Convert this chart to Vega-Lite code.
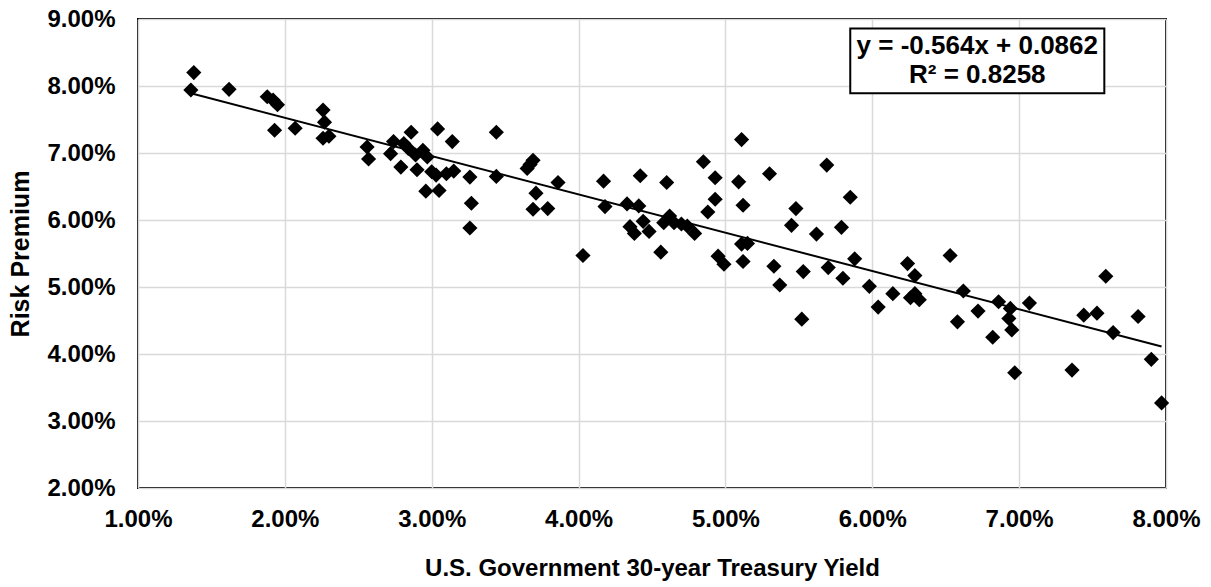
{
  "$schema": "https://vega.github.io/schema/vega-lite/v6.json",
  "autosize": "none",
  "width": 1028,
  "height": 469,
  "padding": {"left": 138, "top": 19, "right": 45, "bottom": 99},
  "background": "white",
  "config": {
    "view": {"stroke": "black", "strokeWidth": 2},
    "font": "Liberation Sans"
  },
  "datasets": {
    "pts": [
      {"yield": 0.0138, "premium": 0.0820}, {"yield": 0.0136, "premium": 0.0794}, {"yield": 0.0162, "premium": 0.0795},
      {"yield": 0.0188, "premium": 0.0784}, {"yield": 0.0192, "premium": 0.0779}, {"yield": 0.0195, "premium": 0.0772},
      {"yield": 0.0193, "premium": 0.0734}, {"yield": 0.0207, "premium": 0.0737}, {"yield": 0.0226, "premium": 0.0764},
      {"yield": 0.0227, "premium": 0.0746}, {"yield": 0.0226, "premium": 0.0722}, {"yield": 0.0230, "premium": 0.0725},
      {"yield": 0.0256, "premium": 0.0709}, {"yield": 0.0257, "premium": 0.0691}, {"yield": 0.0274, "premium": 0.0717},
      {"yield": 0.0272, "premium": 0.0699}, {"yield": 0.0279, "premium": 0.0679}, {"yield": 0.0286, "premium": 0.0731},
      {"yield": 0.0281, "premium": 0.0714}, {"yield": 0.0284, "premium": 0.0707}, {"yield": 0.0289, "premium": 0.0697},
      {"yield": 0.0290, "premium": 0.0675}, {"yield": 0.0294, "premium": 0.0704}, {"yield": 0.0297, "premium": 0.0694},
      {"yield": 0.0300, "premium": 0.0672}, {"yield": 0.0303, "premium": 0.0667}, {"yield": 0.0310, "premium": 0.0669},
      {"yield": 0.0315, "premium": 0.0673}, {"yield": 0.0296, "premium": 0.0643}, {"yield": 0.0305, "premium": 0.0644},
      {"yield": 0.0304, "premium": 0.0736}, {"yield": 0.0314, "premium": 0.0717}, {"yield": 0.0326, "premium": 0.0664},
      {"yield": 0.0327, "premium": 0.0625}, {"yield": 0.0326, "premium": 0.0588}, {"yield": 0.0344, "premium": 0.0731},
      {"yield": 0.0344, "premium": 0.0665}, {"yield": 0.0369, "premium": 0.0689}, {"yield": 0.0365, "premium": 0.0677},
      {"yield": 0.0367, "premium": 0.0683}, {"yield": 0.0371, "premium": 0.0640}, {"yield": 0.0369, "premium": 0.0616},
      {"yield": 0.0379, "premium": 0.0617}, {"yield": 0.0386, "premium": 0.0656}, {"yield": 0.0403, "premium": 0.0547},
      {"yield": 0.0417, "premium": 0.0658}, {"yield": 0.0418, "premium": 0.0620}, {"yield": 0.0433, "premium": 0.0624},
      {"yield": 0.0441, "premium": 0.0621}, {"yield": 0.0435, "premium": 0.0590}, {"yield": 0.0438, "premium": 0.0580},
      {"yield": 0.0442, "premium": 0.0666}, {"yield": 0.0444, "premium": 0.0598}, {"yield": 0.0448, "premium": 0.0583},
      {"yield": 0.0456, "premium": 0.0552}, {"yield": 0.0460, "premium": 0.0656}, {"yield": 0.0458, "premium": 0.0596},
      {"yield": 0.0462, "premium": 0.0606}, {"yield": 0.0465, "premium": 0.0596}, {"yield": 0.0470, "premium": 0.0594},
      {"yield": 0.0474, "premium": 0.0591}, {"yield": 0.0479, "premium": 0.0580}, {"yield": 0.0485, "premium": 0.0687},
      {"yield": 0.0493, "premium": 0.0663}, {"yield": 0.0493, "premium": 0.0631}, {"yield": 0.0488, "premium": 0.0612},
      {"yield": 0.0495, "premium": 0.0546}, {"yield": 0.0499, "premium": 0.0534}, {"yield": 0.0511, "premium": 0.0720},
      {"yield": 0.0509, "premium": 0.0657}, {"yield": 0.0512, "premium": 0.0622}, {"yield": 0.0511, "premium": 0.0564},
      {"yield": 0.0515, "premium": 0.0565}, {"yield": 0.0512, "premium": 0.0538}, {"yield": 0.0530, "premium": 0.0669},
      {"yield": 0.0533, "premium": 0.0531}, {"yield": 0.0537, "premium": 0.0503}, {"yield": 0.0548, "premium": 0.0617},
      {"yield": 0.0545, "premium": 0.0592}, {"yield": 0.0553, "premium": 0.0523}, {"yield": 0.0552, "premium": 0.0452},
      {"yield": 0.0569, "premium": 0.0682}, {"yield": 0.0562, "premium": 0.0579}, {"yield": 0.0570, "premium": 0.0529},
      {"yield": 0.0579, "premium": 0.0589}, {"yield": 0.0585, "premium": 0.0634}, {"yield": 0.0580, "premium": 0.0513},
      {"yield": 0.0588, "premium": 0.0542}, {"yield": 0.0598, "premium": 0.0501}, {"yield": 0.0604, "premium": 0.0470},
      {"yield": 0.0614, "premium": 0.0490}, {"yield": 0.0624, "premium": 0.0535}, {"yield": 0.0629, "premium": 0.0517},
      {"yield": 0.0626, "premium": 0.0484}, {"yield": 0.0629, "premium": 0.0490}, {"yield": 0.0632, "premium": 0.0481},
      {"yield": 0.0653, "premium": 0.0547}, {"yield": 0.0662, "premium": 0.0494}, {"yield": 0.0658, "premium": 0.0448},
      {"yield": 0.0672, "premium": 0.0464}, {"yield": 0.0686, "premium": 0.0478}, {"yield": 0.0682, "premium": 0.0425},
      {"yield": 0.0694, "premium": 0.0468}, {"yield": 0.0693, "premium": 0.0453}, {"yield": 0.0695, "premium": 0.0436},
      {"yield": 0.0697, "premium": 0.0372}, {"yield": 0.0707, "premium": 0.0476}, {"yield": 0.0736, "premium": 0.0376},
      {"yield": 0.0744, "premium": 0.0458}, {"yield": 0.0753, "premium": 0.0461}, {"yield": 0.0759, "premium": 0.0516},
      {"yield": 0.0764, "premium": 0.0432}, {"yield": 0.0781, "premium": 0.0456}, {"yield": 0.0790, "premium": 0.0392},
      {"yield": 0.0797, "premium": 0.0327}
    ],
    "box": [
      {"x1": 0.0585, "x2": 0.0758, "y1": 0.0886, "y2": 0.0789}
    ],
    "labels": [
      {"x": 0.06715, "y": 0.0860, "text": "y = -0.564x + 0.0862"},
      {"x": 0.06715, "y": 0.0817, "text": "R² = 0.8258"}
    ]
  },
  "layer": [
    {
      "data": {"name": "pts"},
      "mark": {"type": "point", "shape": "diamond", "filled": true, "color": "black", "size": 230, "opacity": 1},
      "encoding": {
        "x": {
          "field": "yield", "type": "quantitative",
          "scale": {"domain": [0.01, 0.08], "nice": false, "zero": false},
          "axis": {
            "title": "U.S. Government 30-year Treasury Yield",
            "format": ".2%", "values": [0.01, 0.02, 0.03, 0.04, 0.05, 0.06, 0.07, 0.08],
            "grid": true, "gridColor": "#d9d9d9", "gridWidth": 1.5,
            "ticks": false, "domain": false,
            "labelFont": "Liberation Sans", "labelFontSize": 24, "labelFontWeight": "bold", "labelColor": "black",
            "labelPadding": 19, "labelFlush": false,
            "titleFont": "Liberation Sans", "titleFontSize": 24, "titleFontWeight": "bold", "titleColor": "black",
            "titlePadding": 25
          }
        },
        "y": {
          "field": "premium", "type": "quantitative",
          "scale": {"domain": [0.02, 0.09], "nice": false, "zero": false},
          "axis": {
            "title": "Risk Premium",
            "format": ".2%", "values": [0.02, 0.03, 0.04, 0.05, 0.06, 0.07, 0.08, 0.09],
            "grid": true, "gridColor": "#d9d9d9", "gridWidth": 1.5,
            "ticks": false, "domain": false,
            "labelFont": "Liberation Sans", "labelFontSize": 24, "labelFontWeight": "bold", "labelColor": "black",
            "labelPadding": 23, "labelFlush": false,
            "titleFont": "Liberation Sans", "titleFontSize": 25, "titleFontWeight": "bold", "titleColor": "black",
            "titlePadding": 13
          }
        }
      }
    },
    {
      "data": {"name": "pts"},
      "transform": [{"regression": "premium", "on": "yield"}],
      "mark": {"type": "line", "color": "black", "strokeWidth": 2},
      "encoding": {
        "x": {"field": "yield", "type": "quantitative"},
        "y": {"field": "premium", "type": "quantitative"}
      }
    },
    {
      "data": {"name": "box"},
      "mark": {"type": "rect", "fill": "white", "stroke": "black", "strokeWidth": 2},
      "encoding": {
        "x": {"field": "x1", "type": "quantitative"},
        "x2": {"field": "x2"},
        "y": {"field": "y1", "type": "quantitative"},
        "y2": {"field": "y2"}
      }
    },
    {
      "data": {"name": "labels"},
      "mark": {"type": "text", "font": "Liberation Sans", "fontSize": 26, "fontWeight": "bold", "color": "black", "align": "center", "baseline": "middle"},
      "encoding": {
        "x": {"field": "x", "type": "quantitative"},
        "y": {"field": "y", "type": "quantitative"},
        "text": {"field": "text"}
      }
    }
  ]
}
